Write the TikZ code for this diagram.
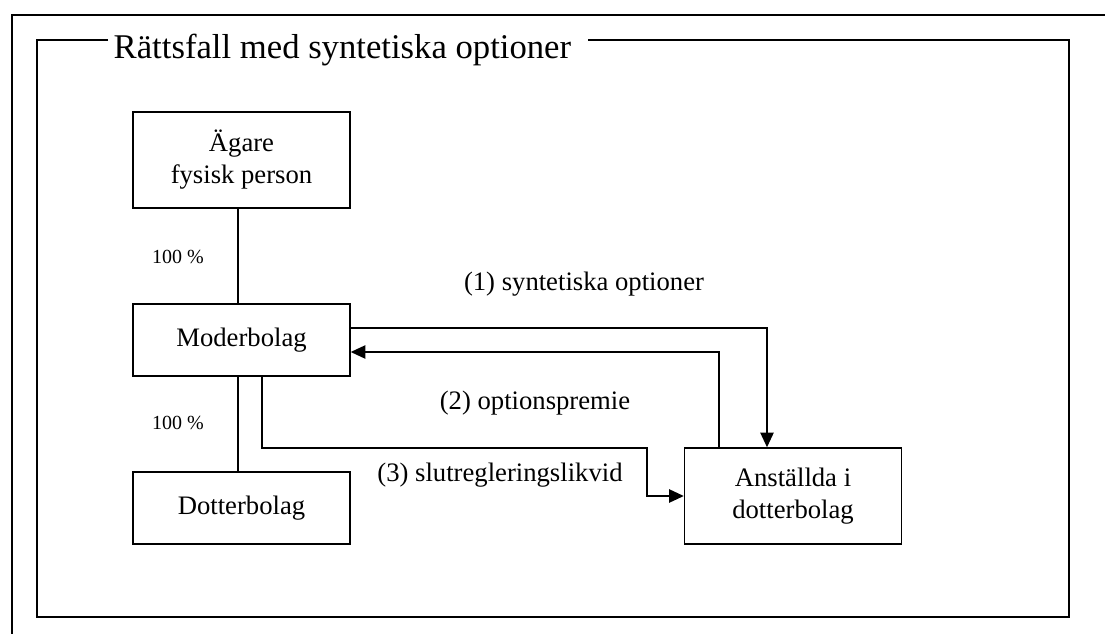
\documentclass[tikz,border=0pt]{standalone}
\usepackage{fontspec}
\setmainfont{Liberation Serif}
\usepackage{xcolor}
\usetikzlibrary{arrows.meta}
\usetikzlibrary{calc,positioning}

\begin{document}
\begin{tikzpicture}[x=0.75pt, y=-0.75pt, line width=1.1pt,
    box/.style={draw, line width=1.1pt, minimum width=162.75pt, align=center,
      font=\fontsize{20}{24}\selectfont},
    lbl/.style={font=\fontsize{20}{24}\selectfont},
    pct/.style={font=\fontsize{15}{18}\selectfont},
    flow/.style={-{Triangle[length=11pt, width=10pt]}}]

    \useasboundingbox (0,0) rectangle (1105,634);

    % Ramar
    \draw (12,634) -- (12,15) -- (1105,15);
    \node[anchor=base west, inner sep=0pt, font=\fontsize{26}{31}\selectfont]
      (title) at (113,59) {Rättsfall med syntetiska optioner};
    \draw (108,40) -- (37,40) -- (37,617) -- (1069,617) -- (1069,40) -- (588,40);

    % Boxar
    \node[box, minimum height=72pt] (aga) at (241.5,160) {Ägare\\fysisk person};
    \node[box, minimum height=54pt] (mod) at (241.5,340) {Moderbolag};
    \node[box, minimum height=54pt] (dot) at (241.5,508) {Dotterbolag};
    \node[box, minimum height=72pt] (ans) at (793,496) {Anställda i\\dotterbolag};

    % Ägande
    \draw ([xshift=-2.6pt]aga.south) -- ([xshift=-2.6pt]aga.south |- mod.north);
    \draw ([xshift=-2.6pt]mod.south) -- ([xshift=-2.6pt]mod.south |- dot.north);
    \node[pct] (p1) at (178,257) {100 \%};
    \node[pct] (p2) at (178,423) {100 \%};

    % Flöden
    \draw[flow] ([yshift=9pt]mod.east) -| ([xshift=-19.5pt]ans.north);
    \draw[flow] ([xshift=-55.5pt]ans.north) |- ([yshift=-9pt]mod.east);
    \draw[flow] ([xshift=15.4pt]mod.south) |- (647,448) |- (ans.west);

    \node[lbl] (l1) at (584,284) {(1) syntetiska optioner};
    \node[lbl] (l2) at (535,403) {(2) optionspremie};
    \node[lbl] (l3) at (500,475) {(3) slutregleringslikvid};
\end{tikzpicture}
\end{document}
